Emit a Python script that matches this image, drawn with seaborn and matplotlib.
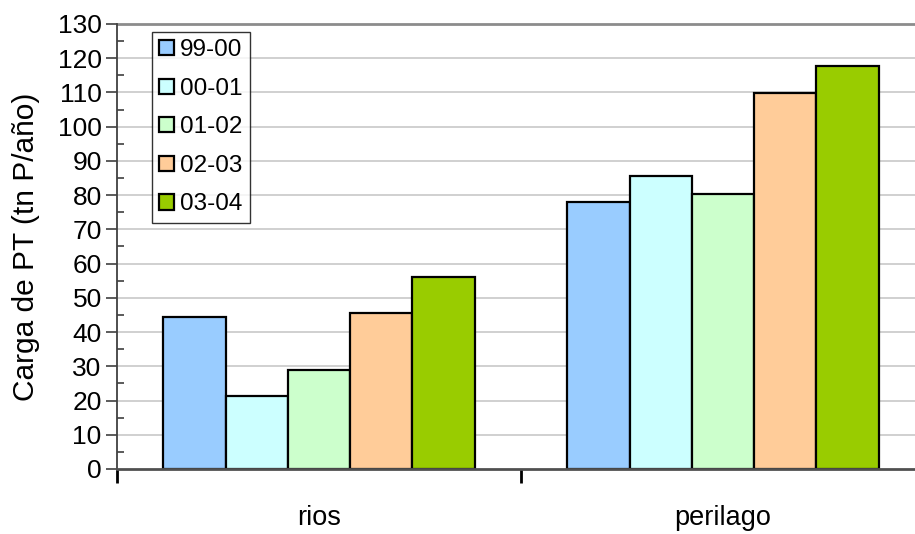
import matplotlib
matplotlib.use("Agg")
import matplotlib.pyplot as plt
from matplotlib.patches import Patch
from matplotlib.ticker import MultipleLocator, FixedLocator
import seaborn as sns
import pandas as pd

# Phosphorus load per zone and hydrological year
categories = ["rios", "perilago"]
periods = ["99-00", "00-01", "01-02", "02-03", "03-04"]
rios = [44.5, 21.3, 28.9, 45.7, 56.0]
perilago = [78.1, 85.7, 80.2, 109.7, 117.8]
colors = ["#99CCFF", "#CCFFFF", "#CCFFCC", "#FFCC99", "#99CC00"]

rows = []
for cat, vals in zip(categories, [rios, perilago]):
    for per, v in zip(periods, vals):
        rows.append({"zona": cat, "periodo": per, "carga": v})
df = pd.DataFrame(rows)

sns.set_theme(style="white")
plt.rcParams["font.family"] = ["Liberation Sans", "DejaVu Sans"]
plt.rcParams["text.color"] = "black"
plt.rcParams["axes.labelcolor"] = "black"
plt.rcParams["xtick.labelcolor"] = "black"
plt.rcParams["ytick.labelcolor"] = "black"

fig = plt.figure(figsize=(9.15, 5.34), dpi=100)
ax = fig.add_axes([117 / 915, 65 / 534, 808 / 915, 445 / 534])

sns.barplot(data=df, x="zona", y="carga", hue="periodo", order=categories,
            hue_order=periods, palette=dict(zip(periods, colors)),
            width=0.77, gap=0, edgecolor="black", linewidth=1.6,
            saturation=1, legend=False, ax=ax, zorder=3)

ax.set_xlim(-0.5, 1.5)
ax.set_ylim(0, 130)

# Horizontal gridlines
for v in range(10, 130, 10):
    ax.axhline(v, color="#C8C8C8", lw=1.2, zorder=0)
ax.axhline(130, color="#8C8C8C", lw=2.0, zorder=1, clip_on=False)

for side in ["top", "right"]:
    ax.spines[side].set_visible(False)
ax.spines["left"].set_color("#404040")
ax.spines["left"].set_linewidth(1.3)
ax.spines["bottom"].set_color("#505050")
ax.spines["bottom"].set_linewidth(2.0)
ax.spines["bottom"].set_zorder(4)

# y axis: majors outward, minors inward
ax.yaxis.set_major_locator(MultipleLocator(10))
ax.yaxis.set_minor_locator(MultipleLocator(5))
ax.tick_params(axis="y", which="major", direction="out", length=8, width=1.2,
               color="#404040", labelsize=19, pad=3, left=True)
ax.tick_params(axis="y", which="minor", direction="in", length=5, width=1.2,
               color="#404040", left=True)

# x axis: labels centred, ticks at category boundaries
ax.xaxis.set_minor_locator(FixedLocator([-0.5, 0.5, 1.5]))
ax.tick_params(axis="x", which="major", length=0, labelsize=19.5, pad=26)
ax.tick_params(axis="x", which="minor", direction="out", length=10, width=2,
               color="black", bottom=True)

ax.set_xlabel("")
ax.set_ylabel("Carga de PT (tn P/año)", fontsize=21.5, labelpad=13)

handles = [Patch(facecolor=c, edgecolor="black", linewidth=1.6) for c in colors]
leg = ax.legend(handles, periods, loc="upper left",
                bbox_to_anchor=((152 - 117) / 808, (469 - 32) / 445),
                borderaxespad=0, frameon=True, fancybox=False, shadow=False,
                fontsize=17.5, handlelength=0.6, handleheight=0.6,
                handletextpad=0.25, labelspacing=0.68, borderpad=0.3)
leg.get_frame().set_edgecolor("black")
leg.get_frame().set_linewidth(1.0)
leg.set_zorder(5)
for t in leg.get_texts():
    t.set_color("black")

fig.savefig("out.png", dpi=100)
